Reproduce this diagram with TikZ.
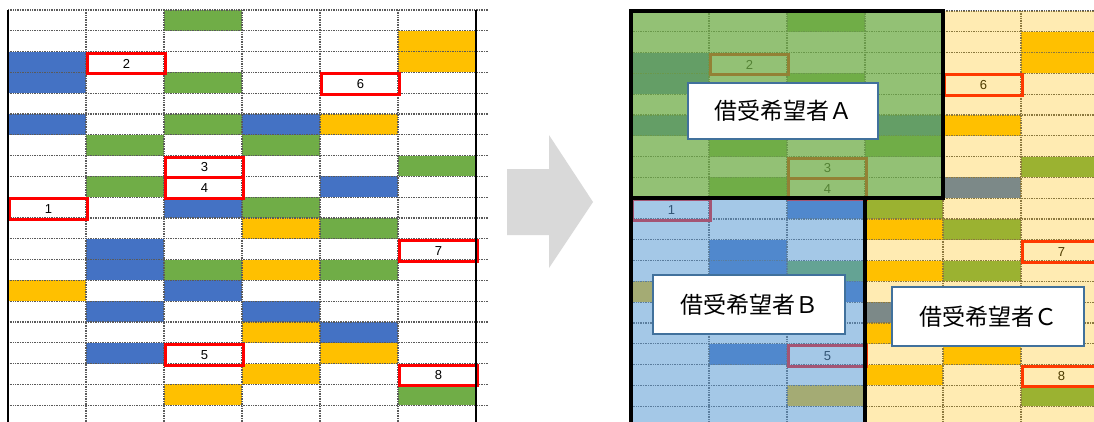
\documentclass[tikz,border=0pt]{standalone}
\usepackage{fontspec}
\setmainfont{Liberation Sans}
\newfontfamily\jpfont{Noto Sans CJK JP}
\definecolor{xgreen}{HTML}{70AD47}
\definecolor{xblue}{HTML}{4472C4}
\definecolor{xorange}{HTML}{FFC000}
\definecolor{xred}{HTML}{FF0000}
\definecolor{arrowgray}{HTML}{D9D9D9}
\definecolor{ovgreen}{HTML}{70AD47}
\definecolor{ovblue}{HTML}{5B9BD5}
\definecolor{ovyellow}{HTML}{FFC000}
\definecolor{labelborder}{HTML}{41719C}
\definecolor{gridgray}{HTML}{5A5A5A}
\tikzset{
  gridline/.style={draw=gridgray, line width=1.2pt, dash pattern=on 1pt off 0.7pt},
  redbox/.style={draw=xred, line width=3pt, anchor=north west, minimum width=78pt, minimum height=20.8pt, inner sep=0pt, font=\fontsize{13}{13}\selectfont},
  namebox/.style={draw=labelborder, line width=2pt, fill=white, inner sep=0pt, font=\jpfont\fontsize{23}{23}\selectfont},
  regionborder/.style={draw=black, line width=3.5pt},
  overlayA/.style={fill=ovgreen, opacity=0.75},
  overlayB/.style={fill=ovblue, opacity=0.55},
  overlayC/.style={fill=ovyellow, opacity=0.3},
}
\newcommand\drawsheet[1]{%
  \fill[white] (0,0) rectangle (480,430);
  \foreach \r/\c in {0/2,3/2,5/2,6/1,6/3,7/5,8/1,9/3,10/4,12/2,12/4,18/5}
    \fill[xgreen] (\c*78,\r*20.8) rectangle ++(78,20.8);
  \foreach \r/\c in {2/0,3/0,5/0,5/3,8/4,9/2,11/1,12/1,13/2,14/1,14/3,15/4,16/1}
    \fill[xblue] (\c*78,\r*20.8) rectangle ++(78,20.8);
  \foreach \r/\c in {1/5,2/5,5/4,10/3,12/3,13/0,15/3,16/4,17/3,18/2}
    \fill[xorange] (\c*78,\r*20.8) rectangle ++(78,20.8);
  \foreach \c in {1,...,5}
    \draw[gridline] (\c*78,0) -- (\c*78,430);
  \foreach \r in {0,...,20}
    \draw[gridline] (0,\r*20.8) -- (480,\r*20.8);
  \foreach \r/\c/\n in {2/1/2,3/4/6,7/2/3,8/2/4,9/0/1,11/5/7,16/2/5,17/5/8}
    \node[redbox] (#1box\n) at (\c*78,\r*20.8) {\n};
}
\begin{document}
\begin{tikzpicture}[x=1pt,y=-1pt]
\useasboundingbox (0,0) rectangle (1094,421);
\clip (0,0) rectangle (1094,421);
% left sheet
\begin{scope}[shift={(8,10)}]
  \drawsheet{L}
  \draw[black, line width=1.3pt] (0,0) -- (0,430);
  \draw[black, line width=1.3pt] (468,0) -- (468,430);
\end{scope}
% arrow
\fill[arrowgray] (507,169) -- (549,169) -- (549,135) -- (593,202) -- (549,268) -- (549,235) -- (507,235) -- cycle;
% right sheet
\begin{scope}[shift={(631,11)}]
  \drawsheet{R}
  \fill[overlayA] (0,0) rectangle (312,187.2);
  \fill[overlayB] (0,187.2) rectangle (234,440);
  \fill[overlayC] (312,0) rectangle (480,187.2);
  \fill[overlayC] (234,187.2) rectangle (480,440);
  \draw[regionborder] (0,0) rectangle (312,187.2);
  \draw[regionborder] (0,187.2) rectangle (234,440);
\end{scope}
\node[namebox, minimum width=190pt, minimum height=56pt] (labelA) at (783,111) {借受希望者Ａ};
\node[namebox, minimum width=192pt, minimum height=59pt] (labelB) at (749,304.5) {借受希望者Ｂ};
\node[namebox, minimum width=192pt, minimum height=59pt] (labelC) at (988,316.5) {借受希望者Ｃ};
\end{tikzpicture}
\end{document}
